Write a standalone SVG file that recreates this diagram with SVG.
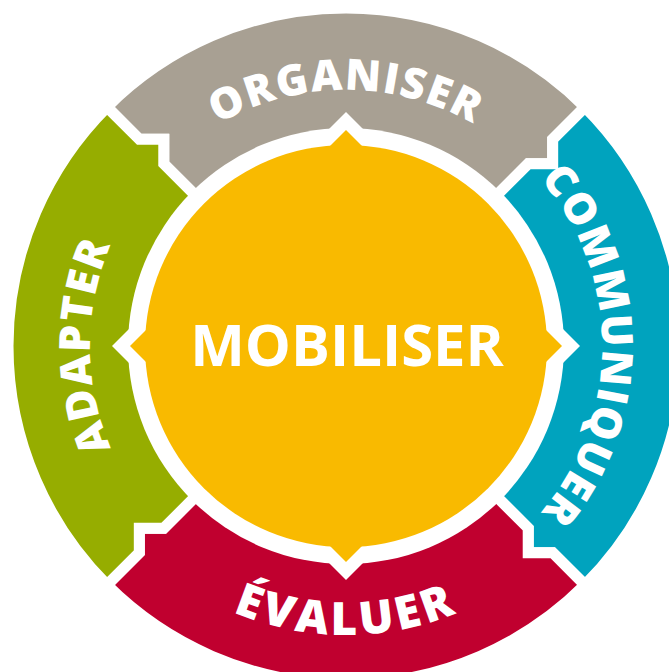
<svg xmlns="http://www.w3.org/2000/svg" width="669" height="672" viewBox="0 0 669 672">
<style>
.seg{stroke:#fff;stroke-width:11;stroke-linejoin:miter}
.lbl{font-family:"Open Sans","Noto Sans","Liberation Sans",sans-serif;font-weight:800;fill:#fff}
.ring{font-size:43px;letter-spacing:1.5px}
.ringb{font-size:46px;letter-spacing:3.5px}
.big{font-size:58px;font-weight:700}
</style>
<defs>
<path id="segShape" d="M-239,-239 A338,338 0 0 1 239,-239 L206.69,-206.69 L206.69,-182.22 L182.22,-182.22 L144.96,-144.96 A205,205 0 0 0 -144.96,-144.96 L-182.22,-182.22 L-182.22,-206.69 L-206.69,-206.69 Z"/>
<path id="arcTop" d="M90,346 A256,256 0 0 1 602,346"/>
<path id="arcRight" d="M346,90 A256,256 0 0 1 346,602"/>
<path id="arcLeft" d="M346,602 A256,256 0 0 1 346,90"/>
<path id="arcBottom" d="M57,346 A289,289 0 0 0 635,346"/>
</defs>
<rect width="669" height="672" fill="#fff"/>
<g id="organiser">
<use href="#segShape" class="seg" fill="#A8A093" transform="translate(346 346)"/>
<text class="lbl ring" text-anchor="middle"><textPath href="#arcTop" startOffset="50%">ORGANISER</textPath></text>
</g>
<g id="communiquer">
<use href="#segShape" class="seg" fill="#00A3BE" transform="translate(346 346) rotate(90)"/>
<text class="lbl ring" text-anchor="middle"><textPath href="#arcRight" startOffset="50%">COMMUNIQUER</textPath></text>
</g>
<g id="evaluer">
<use href="#segShape" class="seg" fill="#C0002F" transform="translate(346 346) rotate(180)"/>
<text class="lbl ringb" text-anchor="middle"><textPath href="#arcBottom" startOffset="50%">ÉVALUER</textPath></text>
</g>
<g id="adapter">
<use href="#segShape" class="seg" fill="#96AD00" transform="translate(346 346) rotate(270)"/>
<text class="lbl ring" text-anchor="middle"><textPath href="#arcLeft" startOffset="50%">ADAPTER</textPath></text>
</g>
<g id="connectors"/>
<g id="mobiliser">
<g transform="translate(346 346)" fill="#fff">
<circle r="218"/>
<polygon points="0,-234 234,0 0,234 -234,0"/>
</g>
<g transform="translate(346 346)" fill="#F9BA00">
<circle r="201"/>
<polygon points="0,-216 216,0 0,216 -216,0"/>
</g>
<text class="lbl big" x="347" y="366" text-anchor="middle">MOBILISER</text>
</g>
</svg>
